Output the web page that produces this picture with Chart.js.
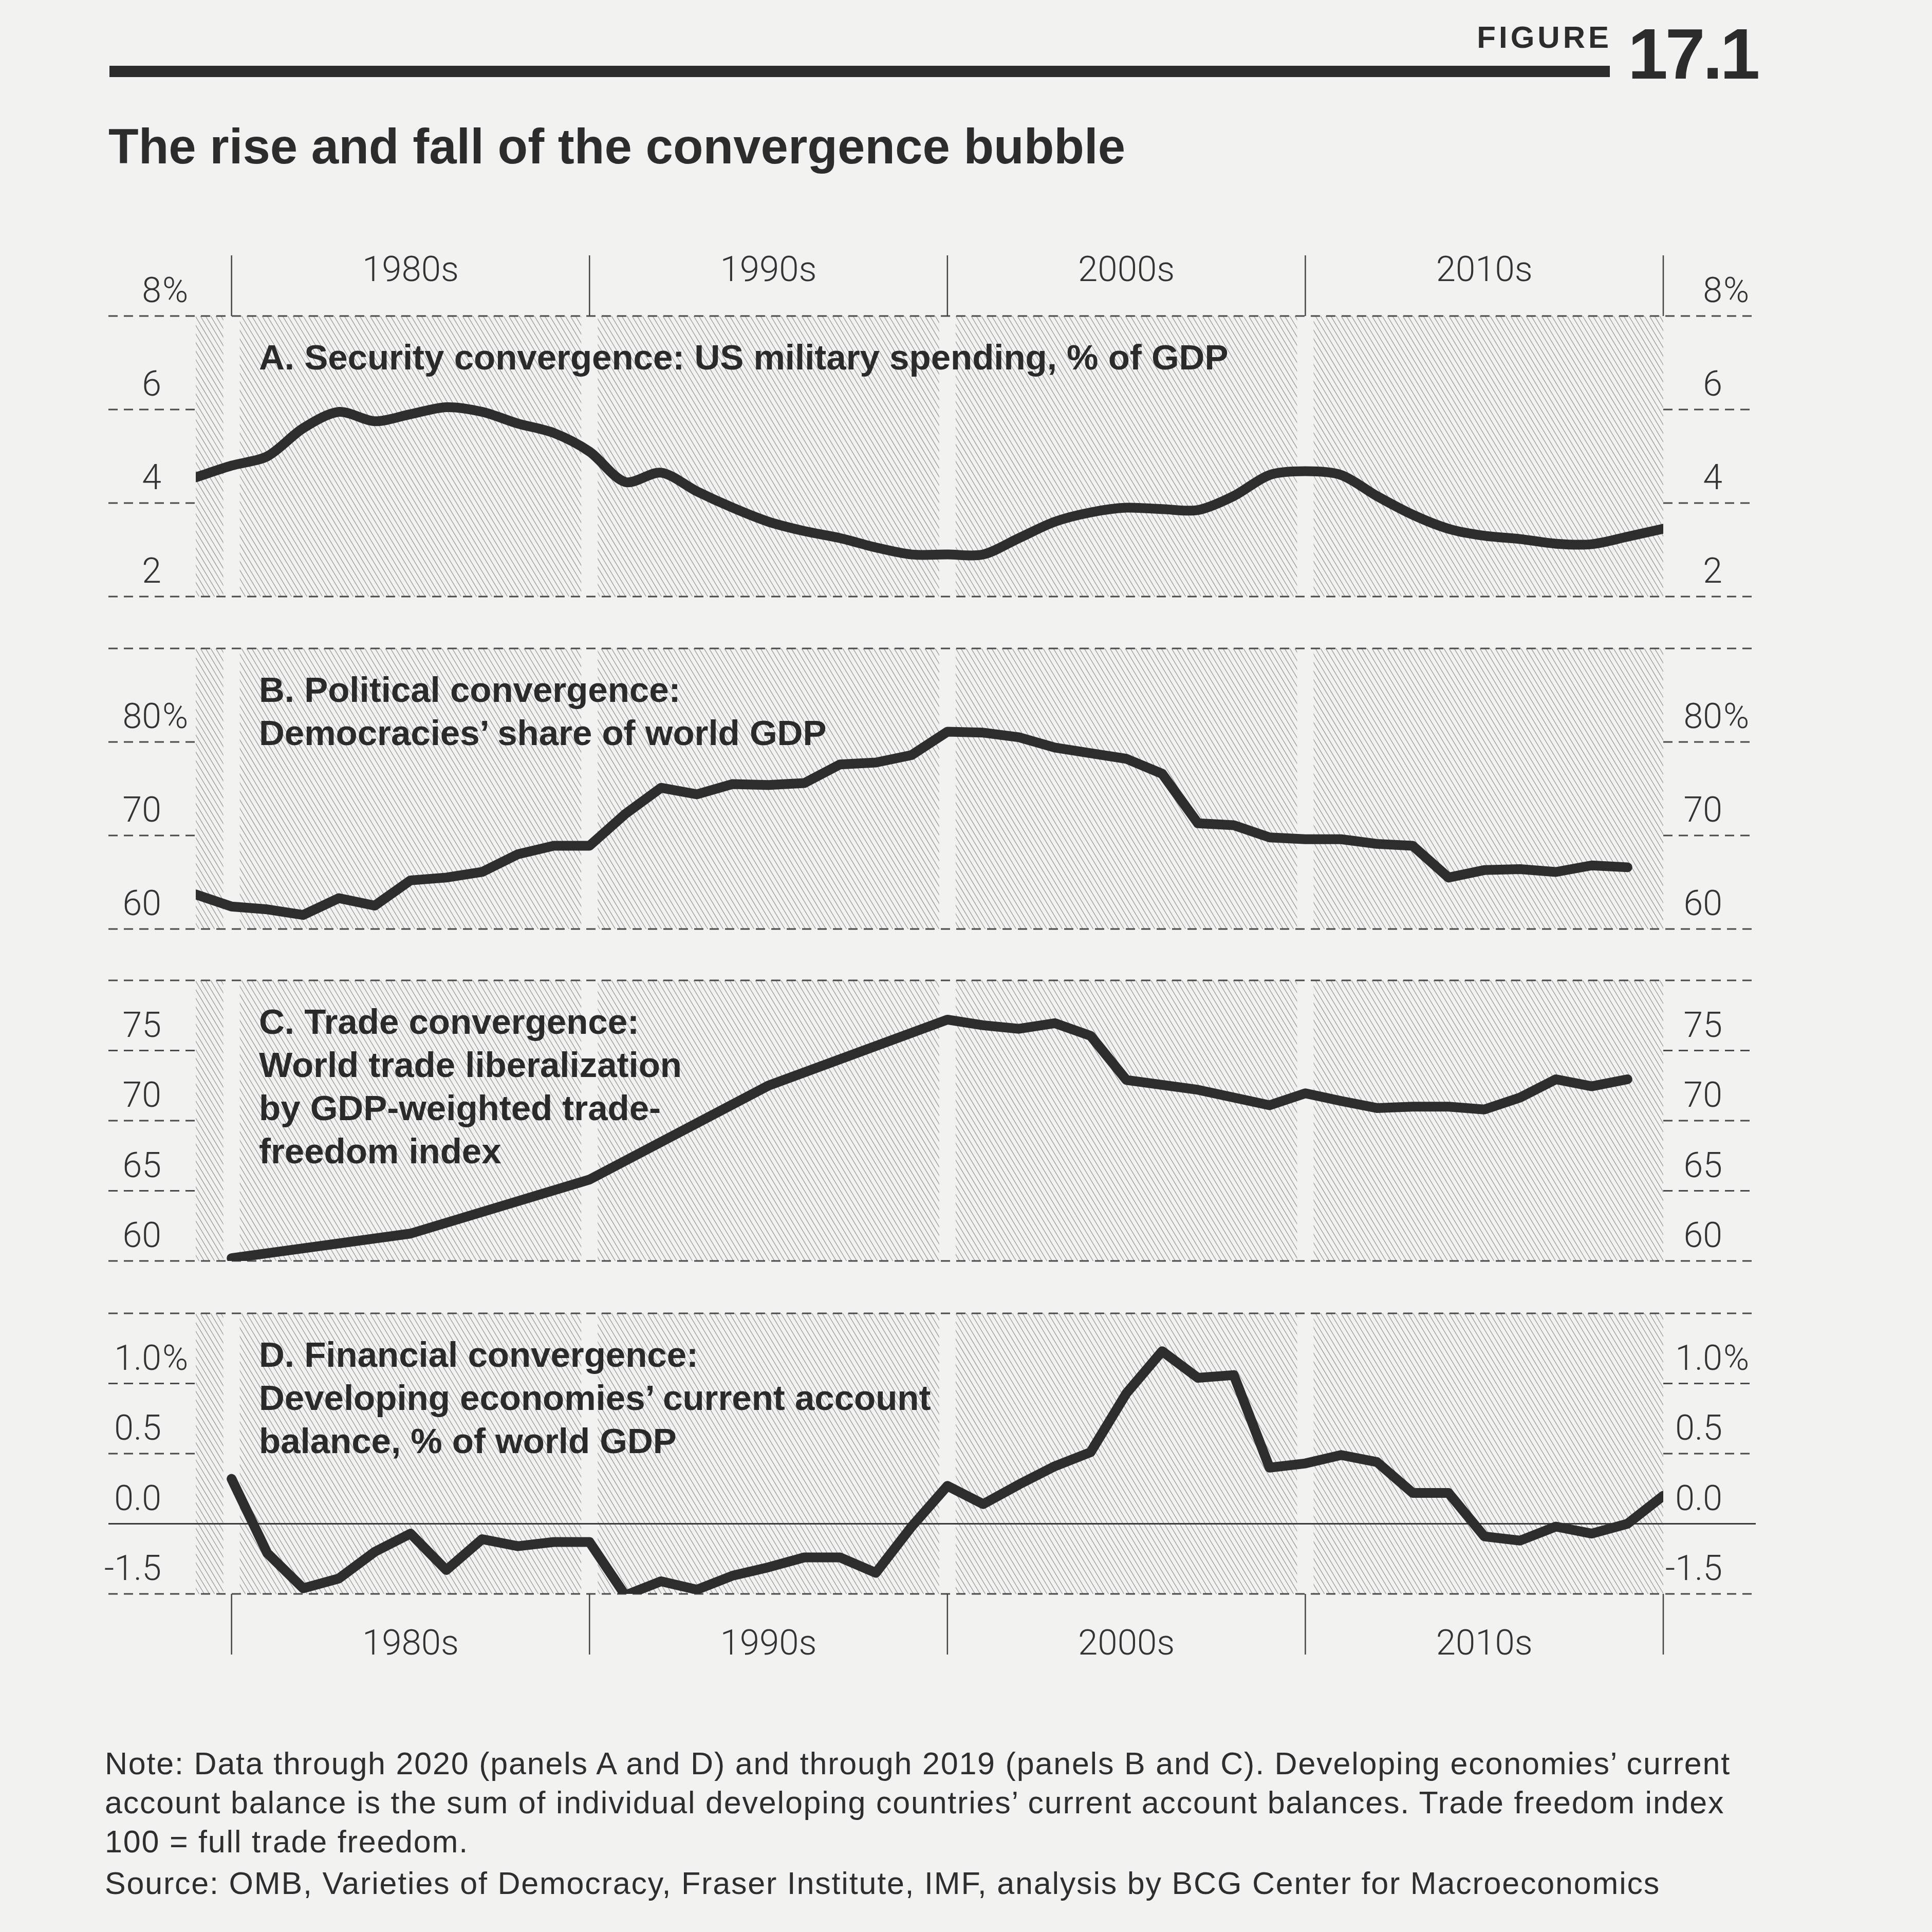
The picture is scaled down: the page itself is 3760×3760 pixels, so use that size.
<!DOCTYPE html>
<html>
<head>
<meta charset="utf-8">
<script src="https://cdn.jsdelivr.net/npm/chart.js@4.4.1/dist/chart.umd.min.js"></script>
<style>
  html, body { margin: 0; padding: 0; }
  body {
    width: 3760px; height: 3760px; position: relative; overflow: hidden;
    background: #f2f2f1; color: #2c2c2c;
    font-family: "Liberation Sans", Arial, sans-serif;
  }
  canvas.panel { position: absolute; left: 0; }
  .txt { position: absolute; white-space: pre; }
  #rule { position: absolute; left: 213px; top: 128px; width: 2920px; height: 22px; background: #2c2c2c; }
  #figword { right: 623px; top: 43px; font-size: 60px; line-height: 60px; font-weight: bold; letter-spacing: 6px; }
  #fignum { left: 3168px; top: 35px; font-size: 140px; line-height: 140px; font-weight: bold; letter-spacing: -5px; }
  #title { left: 211px; top: 237px; font-size: 96px; line-height: 96px; font-weight: bold; }
  .ptitle { left: 504px; font-size: 69px; line-height: 84px; font-weight: bold; color: #2a2a2a; }
  .note { left: 204px; font-size: 61px; line-height: 76px; color: #2e2e2e; letter-spacing: 1.8px; }
</style>
</head>
<body>
<div id="rule"></div>
<div class="txt" id="figword">FIGURE</div>
<div class="txt" id="fignum">17.1</div>
<div class="txt" id="title">The rise and fall of the convergence bubble</div>

<canvas id="cA" class="panel" width="3760" height="826" style="top:475px"></canvas>
<canvas id="cB" class="panel" width="3760" height="826" style="top:1122px"></canvas>
<canvas id="cC" class="panel" width="3760" height="826" style="top:1768px"></canvas>
<canvas id="cD" class="panel" width="3760" height="826" style="top:2416px"></canvas>

<div class="txt ptitle" style="top:654px">A. Security convergence: US military spending, % of GDP</div>
<div class="txt ptitle" style="top:1301px">B. Political convergence:
Democracies’ share of world GDP</div>
<div class="txt ptitle" style="top:1947px">C. Trade convergence:
World trade liberalization
by GDP-weighted trade-
freedom index</div>
<div class="txt ptitle" style="top:2595px">D. Financial convergence:
Developing economies’ current account
balance, % of world GDP</div>

<div class="txt note" style="top:3394px">Note: Data through 2020 (panels A and D) and through 2019 (panels B and C). Developing economies’ current
account balance is the sum of individual developing countries’ current account balances. Trade freedom index
100 = full trade freedom.</div>
<div class="txt note" style="top:3627px">Source: OMB, Varieties of Democracy, Fraser Institute, IMF, analysis by BCG Center for Macroeconomics</div>

<script>
// years on the shared x axis
const years = [1979, 1980, 1981, 1982, 1983, 1984, 1985, 1986, 1987, 1988, 1989,
  1990, 1991, 1992, 1993, 1994, 1995, 1996, 1997, 1998, 1999,
  2000, 2001, 2002, 2003, 2004, 2005, 2006, 2007, 2008, 2009,
  2010, 2011, 2012, 2013, 2014, 2015, 2016, 2017, 2018, 2019, 2020];

// A. US military spending, % of GDP (1979-2020)
const militarySpending = [4.55, 4.8, 5.0, 5.6, 5.95, 5.75, 5.9, 6.05, 5.95, 5.7, 5.5,
  5.1, 4.45, 4.65, 4.25, 3.9, 3.6, 3.4, 3.25, 3.05, 2.9,
  2.9, 2.9, 3.25, 3.6, 3.8, 3.9, 3.87, 3.85, 4.15, 4.6,
  4.68, 4.6, 4.15, 3.75, 3.45, 3.3, 3.23, 3.13, 3.12, 3.28, 3.45];

// B. Democracies' share of world GDP, % (1979-2019)
const democracyShare = [63.7, 62.4, 62.1, 61.5, 63.3, 62.5, 65.2, 65.5, 66.1, 68.0, 68.9,
  68.9, 72.3, 75.1, 74.4, 75.5, 75.4, 75.6, 77.6, 77.8, 78.6,
  81.1, 81.0, 80.5, 79.4, 78.8, 78.2, 76.6, 71.3, 71.1, 69.8,
  69.6, 69.6, 69.1, 68.9, 65.5, 66.3, 66.4, 66.1, 66.8, 66.6, null];

// C. GDP-weighted trade-freedom index (five-yearly to 2000, then annual)
const tradeFreedom = [null, 60.2, null, null, null, null, 61.95, null, null, null, null,
  65.8, null, null, null, null, 72.5, null, null, null, null,
  77.2, 76.8, 76.55, 76.95, 76.05, 72.9, 72.55, 72.2, 71.65, 71.1,
  71.95, 71.4, 70.9, 71.0, 71.0, 70.8, 71.65, 72.95, 72.45, 72.95, null];

// D. Developing economies' current account balance, % of world GDP (1980-2020)
const currentAccount = [null, 0.32, -0.21, -0.46, -0.39, -0.20, -0.07, -0.33, -0.11, -0.16, -0.13,
  -0.13, -0.51, -0.41, -0.47, -0.37, -0.31, -0.24, -0.24, -0.35, -0.02,
  0.27, 0.14, 0.28, 0.41, 0.51, 0.93, 1.23, 1.04, 1.06, 0.40,
  0.43, 0.49, 0.44, 0.22, 0.22, -0.09, -0.12, -0.02, -0.07, 0.0, 0.2];

// tick values and their printed labels
const ticksA = [8, 6, 4, 2];
const tickLabelsA = ['8%', '6', '4', '2'];
const ticksB = [80, 70, 60];
const tickLabelsB = ['80%', '70', '60'];
const ticksC = [75, 70, 65, 60];
const tickLabelsC = ['75', '70', '65', '60'];
const ticksD = [1.0, 0.5, 0.0, -0.5];
const tickLabelsD = ['1.0%', '0.5', '0.0', '-1.5'];

const decades = [1980, 1990, 2000, 2010, 2020];
const decadeLabels = ['1980s', '1990s', '2000s', '2010s'];

const INK = '#2d2d2d';
const PAD = 140;
const LEFT_EDGE = 211, RIGHT_EDGE = 3417;
const LEFT_NUM = 314, RIGHT_NUM = 3352;
const LABEL_FONT = '300 68px Roboto, "Liberation Sans", sans-serif';

function dashed(ctx, x0, x1, yy) {
  ctx.beginPath();
  ctx.moveTo(x0, yy);
  ctx.lineTo(x1, yy);
  ctx.stroke();
}

function drawTickLabel(ctx, label, xRight, yy) {
  const hasPct = label.endsWith('%');
  const num = hasPct ? label.slice(0, -1) : label;
  ctx.textAlign = 'right';
  ctx.fillText(num, xRight, yy);
  if (hasPct) {
    ctx.textAlign = 'left';
    ctx.fillText('%', xRight + 2, yy);
  }
}

const panelDecor = {
  id: 'panelDecor',
  beforeDatasetsDraw(chart) {
    const o = chart.options.plugins.panelDecor;
    const { ctx, chartArea: a, scales: { x, y } } = chart;
    const h = a.bottom - a.top;

    // hatched background, one block per decade with a small white gap
    const edges = [x.min].concat(decades);
    ctx.save();
    for (let i = 0; i < edges.length - 1; i++) {
      let x0 = x.getPixelForValue(edges[i]);
      let x1 = x.getPixelForValue(edges[i + 1]);
      if (i > 0) x0 += 16;
      if (i < edges.length - 2) x1 -= 16;
      ctx.save();
      ctx.beginPath();
      ctx.rect(x0, a.top, x1 - x0, h);
      ctx.clip();
      ctx.strokeStyle = '#9c9c9c';
      ctx.lineWidth = 1.4;
      const run = h * 0.6, step = 10;
      let sx = x0 - run - ((x0 - run) % step);
      ctx.beginPath();
      for (; sx < x1; sx += step) {
        ctx.moveTo(sx, a.top);
        ctx.lineTo(sx + run, a.bottom);
      }
      ctx.stroke();
      ctx.restore();
    }

    // dashed grid: full width at panel edges, margins only inside
    ctx.strokeStyle = '#4a4a4a';
    ctx.lineWidth = 3;
    ctx.setLineDash([18, 12]);
    dashed(ctx, LEFT_EDGE, RIGHT_EDGE, y.getPixelForValue(y.max));
    dashed(ctx, LEFT_EDGE, RIGHT_EDGE, y.getPixelForValue(y.min));
    o.ticks.forEach(v => {
      if (v === y.min || v === y.max || (o.zeroLine && v === 0)) return;
      const py = y.getPixelForValue(v);
      dashed(ctx, LEFT_EDGE, a.left, py);
      dashed(ctx, a.right, RIGHT_EDGE, py);
    });
    ctx.setLineDash([]);
    if (o.zeroLine) {
      ctx.strokeStyle = '#3a3a3a';
      ctx.lineWidth = 3;
      dashed(ctx, LEFT_EDGE, RIGHT_EDGE, y.getPixelForValue(0));
    }

    // value labels sitting above their lines, both sides
    ctx.font = LABEL_FONT;
    ctx.fillStyle = '#333';
    ctx.textBaseline = 'alphabetic';
    o.ticks.forEach((v, i) => {
      const py = y.getPixelForValue(v) - 27;
      drawTickLabel(ctx, o.labels[i], LEFT_NUM, py);
      drawTickLabel(ctx, o.labels[i], RIGHT_NUM, py);
    });

    // decade markers
    if (o.decadeSide) {
      ctx.strokeStyle = '#444';
      ctx.lineWidth = 2.5;
      ctx.font = '300 69px Roboto, "Liberation Sans", sans-serif';
      ctx.textAlign = 'center';
      const top = o.decadeSide === 'top';
      const y0 = top ? a.top - 118 : a.bottom;
      const y1 = top ? a.top : a.bottom + 118;
      decades.forEach(d => {
        const px = x.getPixelForValue(d);
        ctx.beginPath();
        ctx.moveTo(px, y0);
        ctx.lineTo(px, y1);
        ctx.stroke();
      });
      decadeLabels.forEach((lab, i) => {
        const px = x.getPixelForValue((decades[i] + decades[i + 1]) / 2);
        ctx.fillText(lab, px, top ? a.top - 68 : a.bottom + 118);
      });
    }
    ctx.restore();
  }
};

function makePanel(id, series, cfg) {
  return new Chart(document.getElementById(id), {
    type: 'line',
    data: {
      datasets: [{
        data: years.map((yr, i) => ({ x: yr, y: series[i] ?? null })),
        borderColor: INK,
        borderWidth: 19,
        pointRadius: 0,
        tension: cfg.tension || 0,
        borderCapStyle: 'round',
        borderJoinStyle: 'round',
        spanGaps: true,
        fill: false
      }]
    },
    options: {
      responsive: false,
      animation: false,
      devicePixelRatio: 1,
      layout: { padding: { left: 381, right: 523, top: PAD, bottom: PAD } },
      plugins: {
        legend: { display: false },
        tooltip: { enabled: false },
        panelDecor: cfg
      },
      scales: {
        x: { type: 'linear', min: 1979, max: 2020, display: false },
        y: { min: cfg.min, max: cfg.max, display: false }
      }
    },
    plugins: [panelDecor]
  });
}

makePanel('cA', militarySpending, { min: 2, max: 8, ticks: ticksA, labels: tickLabelsA, tension: 0.3, decadeSide: 'top' });
makePanel('cB', democracyShare, { min: 60, max: 90, ticks: ticksB, labels: tickLabelsB });
makePanel('cC', tradeFreedom, { min: 60, max: 80, ticks: ticksC, labels: tickLabelsC });
makePanel('cD', currentAccount, { min: -0.5, max: 1.5, ticks: ticksD, labels: tickLabelsD, zeroLine: true, decadeSide: 'bottom' });
</script>
</body>
</html>
